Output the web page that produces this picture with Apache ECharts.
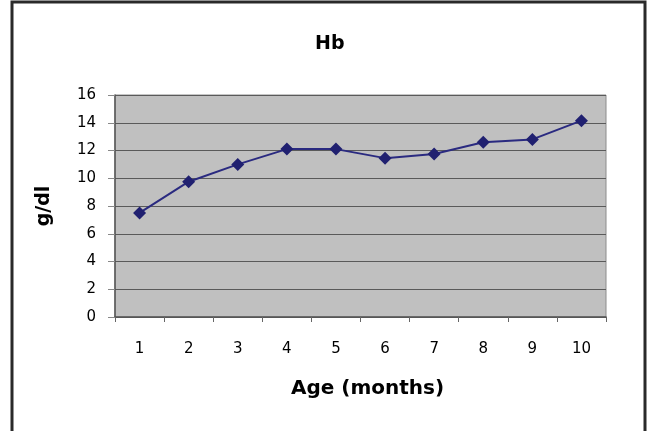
<!DOCTYPE html>
<html>
<head>
<meta charset="utf-8">
<script src="https://cdn.jsdelivr.net/npm/echarts@6/dist/echarts.min.js"></script>
<style>
  html, body { margin: 0; padding: 0; background: #fff; }
  #chart { width: 650px; height: 431px; }
</style>
</head>
<body>
<div id="chart"></div>
<script>
// Hb by age
const ageMonths = ['1', '2', '3', '4', '5', '6', '7', '8', '9', '10']
const hbValues = [7.5, 9.75, 11.0, 12.1, 12.1, 11.45, 11.75, 12.6, 12.8, 14.15]
const yTicks = { min: 0, max: 16, interval: 2 }

const chart = echarts.init(document.getElementById('chart'))
chart.setOption({
  backgroundColor: '#fff',
  animation: false,
  title: {
    text: 'Hb',
    left: 310,
    top: 30,
    textStyle: {
      fontFamily: 'DejaVu Sans',
      fontWeight: 'bold',
      fontSize: 19,
      color: '#000'
    }
  },
  graphic: [{
    type: 'rect',
    shape: { x: 12, y: 2, width: 633, height: 450 },
    style: { fill: 'none', stroke: '#2a2a2a', lineWidth: 3 },
    z: 100
  }],
  grid: {
    left: 115,
    right: 44,
    top: 95,
    bottom: 114,
    show: true,
    backgroundColor: '#c0c0c0',
    borderColor: '#8c8c8c',
    borderWidth: 1
  },
  xAxis: {
    type: 'category',
    data: ageMonths,
    boundaryGap: true,
    name: 'Age (months)',
    nameLocation: 'middle',
    nameGap: 62,
    nameTextStyle: {
      fontFamily: 'DejaVu Sans',
      fontWeight: 'bold',
      fontSize: 20,
      color: '#000',
      padding: [0, 0, 0, 14]
    },
    axisLine: { show: true, lineStyle: { color: '#555', width: 1.5 } },
    axisTick: { show: true, alignWithLabel: false, length: 5, lineStyle: { color: '#666' } },
    axisLabel: {
      fontFamily: 'DejaVu Sans',
      fontSize: 15,
      color: '#000',
      margin: 25
    },
    splitLine: { show: false }
  },
  yAxis: {
    type: 'value',
    min: yTicks.min,
    max: yTicks.max,
    interval: yTicks.interval,
    name: 'g/dl',
    nameLocation: 'middle',
    nameRotate: 90,
    nameGap: 61,
    nameTextStyle: {
      fontFamily: 'DejaVu Sans',
      fontWeight: 'bold',
      fontSize: 19,
      color: '#000'
    },
    axisLine: { show: true, lineStyle: { color: '#555', width: 1.5 } },
    axisTick: { show: true, length: 7, lineStyle: { color: '#888' } },
    axisLabel: {
      fontFamily: 'DejaVu Sans',
      fontSize: 15,
      color: '#000',
      margin: 19,
      padding: [0, 0, 4, 0]
    },
    splitLine: { show: true, lineStyle: { color: '#5a5a5a', width: 1 } }
  },
  series: [{
    name: 'Hb',
    type: 'line',
    data: hbValues,
    symbol: 'diamond',
    symbolSize: 13,
    showAllSymbol: true,
    itemStyle: { color: '#202070' },
    lineStyle: { color: '#2a2a80', width: 2 }
  }]
})
</script>
</body>
</html>
